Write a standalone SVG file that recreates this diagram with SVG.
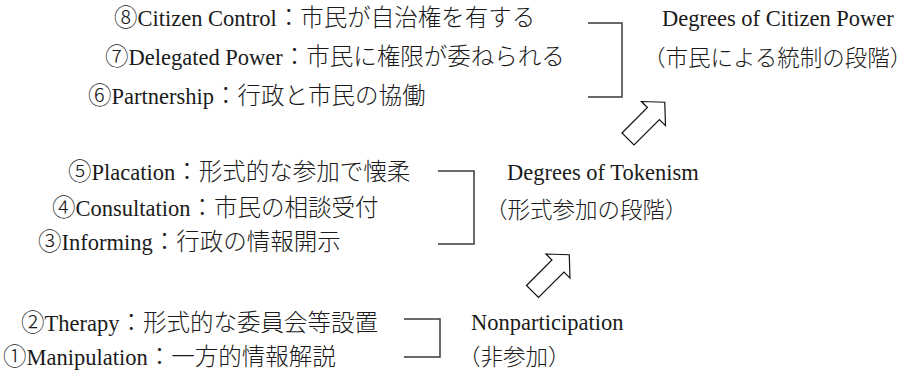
<svg xmlns="http://www.w3.org/2000/svg" width="919" height="371" viewBox="0 0 919 371">
<style>
text { font-family: "Liberation Serif", "Noto Sans CJK JP", serif; font-size: 23.5px; font-weight: 300; fill: #1a1a1a; }
.l { font-size: 22.5px; font-weight: 400; }
.p { font-size: 22.5px; }
.br { fill: none; stroke: #3a3a3a; stroke-width: 1.5; }
.ar { fill: #fff; stroke: #111; stroke-width: 1.2; stroke-linejoin: miter; }
</style>
<defs>
<polygon id="bigArrow" points="0,-8.5 36,-8.5 36,-17 52,0 36,17 36,8.5 0,8.5"/>
</defs>
<rect width="919" height="371" fill="#fff"/>
<g id="citizen-power-items">
<text x="114" y="26">⑧<tspan class="l">Citizen Control</tspan>：市民が自治権を有する</text>
<text x="105" y="65">⑦<tspan class="l">Delegated Power</tspan>：市民に権限が委ねられる</text>
<text x="88" y="104">⑥<tspan class="l">Partnership</tspan>：行政と市民の協働</text>
</g>
<g id="citizen-power">
<text x="662" y="26" class="l">Degrees of Citizen Power</text>
<text x="643" y="66" class="p">（市民による統制の段階）</text>
</g>
<g id="tokenism-items">
<text x="68" y="180">⑤<tspan class="l">Placation</tspan>：形式的な参加で懐柔</text>
<text x="52" y="216">④<tspan class="l">Consultation</tspan>：市民の相談受付</text>
<text x="38" y="250">③<tspan class="l">Informing</tspan>：行政の情報開示</text>
</g>
<g id="tokenism">
<text x="507" y="180" class="l">Degrees of Tokenism</text>
<text x="485" y="218" class="p">（形式参加の段階）</text>
</g>
<g id="nonparticipation-items">
<text x="21" y="331">②<tspan class="l">Therapy</tspan>：形式的な委員会等設置</text>
<text x="3" y="365">①<tspan class="l">Manipulation</tspan>：一方的情報解説</text>
</g>
<g id="nonparticipation">
<text x="471" y="330" class="l">Nonparticipation</text>
<text x="458" y="365" class="p">（非参加）</text>
</g>
<g id="connectors">
<path class="br" d="M588,23 H622 V97 H588"/>
<path class="br" d="M438,171 H474 V244 H438"/>
<path class="br" d="M404,319 H440 V357 H404"/>
<use href="#bigArrow" class="ar" transform="translate(532.5,291.5) rotate(-45)"/>
<use href="#bigArrow" class="ar" transform="translate(628,139) rotate(-45)"/>
</g>
</svg>
